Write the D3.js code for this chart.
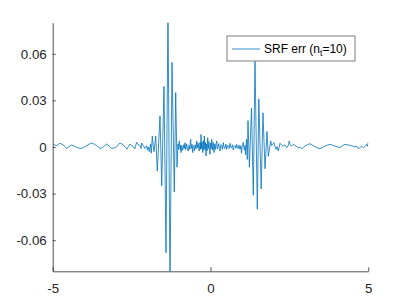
<!DOCTYPE html>
<html>
<head>
<meta charset="utf-8">
<script src="https://cdn.jsdelivr.net/npm/d3@7"></script>
<style>
  body { margin: 0; background: #fff; }
  svg { display: block; font-family: 'Liberation Sans', Arial, sans-serif; }
</style>
</head>
<body>
<svg width="407" height="305"></svg>
<script>
// x ticks / y ticks as shown on the axes
const xTicks = [-5, 0, 5];
const xTickLabels = ['-5', '0', '5'];
const yTicks = [-0.06, -0.03, 0, 0.03, 0.06];
const yTickLabels = ['-0.06', '-0.03', '0', '0.03', '0.06'];
const legendLabel = 'SRF err';

// [x, err]
const leftQuiet = [
  [-4.98, 0.0019], [-4.93, 0.0012], [-4.87, 0.0009], [-4.82, 0.0016], [-4.77, 0.0024],
  [-4.71, 0.0018], [-4.66, 0.0013], [-4.61, 0.0002], [-4.56, -0.0009], [-4.48, 0.0003],
  [-4.40, 0.0013], [-4.32, 0.0006], [-4.24, -0.0002], [-4.16, -0.0008], [-4.08, -0.0009],
  [-4.00, 0.0000], [-3.92, 0.0009], [-3.84, 0.0019], [-3.76, 0.0026], [-3.68, 0.0018],
  [-3.61, 0.0009], [-3.55, -0.0001], [-3.50, -0.0009], [-3.42, -0.0004], [-3.35, 0.0010],
  [-3.29, 0.0019], [-3.21, 0.0006], [-3.13, -0.0009], [-3.05, -0.0006], [-2.97, 0.0002],
  [-2.92, 0.0014], [-2.87, 0.0026], [-2.81, 0.0020], [-2.76, 0.0013], [-2.70, -0.0002],
  [-2.64, -0.0013], [-2.60, 0.0004], [-2.55, 0.0019], [-2.50, 0.0010], [-2.45, 0.0004],
  [-2.40, -0.0012], [-2.34, 0.0030], [-2.29, 0.0014], [-2.23, 0.0009], [-2.20, -0.0010],
  [-2.18, 0.0026], [-2.13, 0.0010], [-2.08, -0.0009], [-2.02, 0.0009], [-2.00, -0.0020],
];
const burstLeft = [
  [-1.971, 0.000], [-1.939, -0.003], [-1.901, 0.002], [-1.876, -0.004], [-1.844, 0.007],
  [-1.816, 0.001], [-1.790, -0.003], [-1.736, 0.007], [-1.686, -0.0155], [-1.600, 0.020],
  [-1.546, -0.025], [-1.473, 0.039], [-1.410, -0.068], [-1.347, 0.090], [-1.283, -0.090],
  [-1.220, 0.0545], [-1.147, -0.029], [-1.103, 0.035], [-1.061, -0.013],
];
const middleNoise = [
  [-1.030, 0.0020], [-1.015, -0.0015], [-1.004, 0.0005], [-0.989, 0.0039], [-0.972, 0.0002],
  [-0.957, -0.0020], [-0.945, 0.0012], [-0.935, -0.0036], [-0.918, 0.0004], [-0.903, 0.0010],
  [-0.885, -0.0022], [-0.862, -0.0010], [-0.845, 0.0015], [-0.825, -0.0008], [-0.808, 0.0028],
  [-0.792, -0.0018], [-0.776, -0.0005], [-0.755, 0.0020], [-0.730, -0.0012], [-0.703, -0.0026],
  [-0.681, 0.0010], [-0.660, -0.0015], [-0.645, 0.0022], [-0.627, 0.0049], [-0.614, -0.0010],
  [-0.602, 0.0000], [-0.585, 0.0018], [-0.564, -0.0036], [-0.545, 0.0006], [-0.523, 0.0010],
  [-0.505, -0.0024], [-0.480, 0.0015], [-0.458, -0.0012], [-0.437, 0.0039], [-0.412, -0.0005],
  [-0.390, 0.0025], [-0.370, -0.0012], [-0.355, -0.0026], [-0.330, 0.0030], [-0.315, -0.0015],
  [-0.301, 0.0081], [-0.285, -0.0010], [-0.270, 0.0035], [-0.247, -0.0036], [-0.225, 0.0040],
  [-0.210, -0.0020], [-0.196, 0.0071], [-0.175, -0.0015], [-0.160, 0.0030], [-0.143, -0.0058],
  [-0.125, 0.0020], [-0.108, -0.0025], [-0.089, 0.0060], [-0.070, -0.0010], [-0.050, 0.0035],
  [-0.032, -0.0020], [-0.016, -0.0047], [0.005, 0.0025], [0.020, -0.0010], [0.038, 0.0049],
  [0.060, -0.0020], [0.085, 0.0030], [0.111, -0.0036], [0.135, 0.0020], [0.160, -0.0015],
  [0.180, 0.0025], [0.197, 0.0039], [0.215, -0.0012], [0.238, 0.0000], [0.260, 0.0022],
  [0.280, -0.0010], [0.301, -0.0026], [0.325, 0.0015], [0.349, 0.0010], [0.375, -0.0015],
  [0.406, 0.0028], [0.430, -0.0005], [0.459, -0.0010], [0.485, 0.0018], [0.513, -0.0015],
  [0.540, 0.0012], [0.570, 0.0005], [0.595, -0.0010], [0.618, 0.0024], [0.640, 0.0002],
  [0.665, -0.0005], [0.695, 0.0014], [0.722, -0.0019], [0.750, 0.0004], [0.776, 0.0010],
  [0.805, -0.0008], [0.830, 0.0017], [0.850, 0.0002], [0.871, -0.0010], [0.905, 0.0012],
  [0.935, -0.0015], [0.960, 0.0008], [0.982, -0.0040], [1.010, 0.0012], [1.039, 0.0030],
  [1.060, -0.0005], [1.077, -0.0020], [1.095, 0.0010], [1.110, -0.0050],
];
const burstRight = [
  [1.141, 0.005], [1.166, -0.008], [1.188, 0.017], [1.233, -0.013], [1.299, 0.025],
  [1.356, -0.031], [1.410, 0.055], [1.483, -0.040], [1.531, 0.031], [1.606, -0.027],
  [1.663, 0.022], [1.727, -0.014], [1.790, 0.010], [1.831, -0.006],
];
const rightQuiet = [
  [1.908, 0.0039], [1.940, 0.0008], [1.971, 0.0017], [2.012, 0.0028], [2.040, 0.0005],
  [2.076, -0.0015], [2.110, 0.0002], [2.148, -0.0026], [2.202, 0.0024], [2.250, 0.0012],
  [2.307, 0.0006], [2.360, 0.0014], [2.414, -0.0004], [2.460, 0.0008], [2.497, 0.0039],
  [2.530, 0.0012], [2.573, 0.0006], [2.620, 0.0016], [2.678, 0.0011], [2.730, 0.0003],
  [2.782, -0.0004], [2.840, -0.0002], [2.890, -0.0011], [2.940, -0.0003], [2.994, 0.0006],
  [3.070, 0.0015], [3.153, 0.0021], [3.230, 0.0012], [3.311, 0.0002], [3.390, -0.0006],
  [3.470, -0.0011], [3.550, -0.0003], [3.628, 0.0006], [3.710, 0.0012], [3.787, 0.0017],
  [3.870, 0.0011], [3.945, 0.0006], [4.020, 0.0001], [4.103, -0.0004], [4.180, 0.0008],
  [4.262, 0.0017], [4.340, 0.0014], [4.420, 0.0011], [4.500, 0.0006], [4.579, 0.0002],
  [4.630, 0.0005], [4.683, -0.0011], [4.740, -0.0002], [4.791, 0.0006], [4.842, -0.0004],
  [4.895, 0.0002], [4.949, 0.0017], [4.975, 0.0005], [5.000, 0.0032],
];

const srfErr = [].concat(leftQuiet, burstLeft, middleNoise, burstRight, rightQuiet);

const axColor = '#262626';
const lineColor = '#0072bd';
const mLeft = 52.7, mRight = 368.3, mTop = 22.7, mBottom = 271.3;

const svg = d3.select('svg');

const x = d3.scaleLinear().domain([-5, 5]).range([mLeft, mRight]);
const y = d3.scaleLinear().domain([-0.08, 0.08]).range([mBottom, mTop]);

svg.append('defs').append('clipPath').attr('id', 'plot-area')
  .append('rect')
  .attr('x', mLeft).attr('y', mTop)
  .attr('width', mRight - mLeft).attr('height', mBottom - mTop);

// the error curve
svg.append('path')
  .datum(srfErr)
  .attr('clip-path', 'url(#plot-area)')
  .attr('fill', 'none')
  .attr('stroke', lineColor)
  .attr('stroke-width', 0.8)
  .attr('stroke-linejoin', 'round')
  .attr('d', d3.line().x(d => x(d[0])).y(d => y(d[1])));

// axes, matlab style: ticks inside, no box
const xAxis = svg.append('g')
  .attr('transform', 'translate(0,' + mBottom + ')')
  .call(d3.axisBottom(x).tickValues(xTicks).tickSizeInner(-4).tickSizeOuter(0).tickPadding(10)
    .tickFormat((d, i) => xTickLabels[i]));
const yAxis = svg.append('g')
  .attr('transform', 'translate(' + mLeft + ',0)')
  .call(d3.axisLeft(y).tickValues(yTicks).tickSizeInner(-3).tickSizeOuter(0).tickPadding(6)
    .tickFormat((d, i) => yTickLabels[i]));

[xAxis, yAxis].forEach(g => {
  g.select('.domain').attr('stroke', axColor).attr('stroke-width', 0.8);
  g.selectAll('.tick line').attr('stroke', axColor).attr('stroke-width', 0.8);
  g.selectAll('.tick text')
    .attr('fill', axColor)
    .attr('font-size', '13.3px')
    .attr('font-family', "'Liberation Sans', Arial, sans-serif");
});
xAxis.selectAll('.tick text').attr('dy', '0.9em');

// legend
const legend = svg.append('g').attr('transform', 'translate(227,36)');
legend.append('rect')
  .attr('x', 0).attr('y', 0)
  .attr('width', 128).attr('height', 25)
  .attr('fill', '#fff')
  .attr('stroke', axColor)
  .attr('stroke-width', 0.6);
legend.append('line')
  .attr('x1', 5).attr('x2', 33)
  .attr('y1', 13).attr('y2', 13)
  .attr('stroke', lineColor)
  .attr('stroke-width', 0.8);
const lt = legend.append('text')
  .attr('x', 37).attr('y', 17)
  .attr('font-size', '12px')
  .attr('fill', '#000');
lt.append('tspan').text(legendLabel + ' (n');
lt.append('tspan').attr('font-size', '8.5px').attr('dy', 3).text('t');
lt.append('tspan').attr('dy', -3).text('=10)');
</script>
</body>
</html>
